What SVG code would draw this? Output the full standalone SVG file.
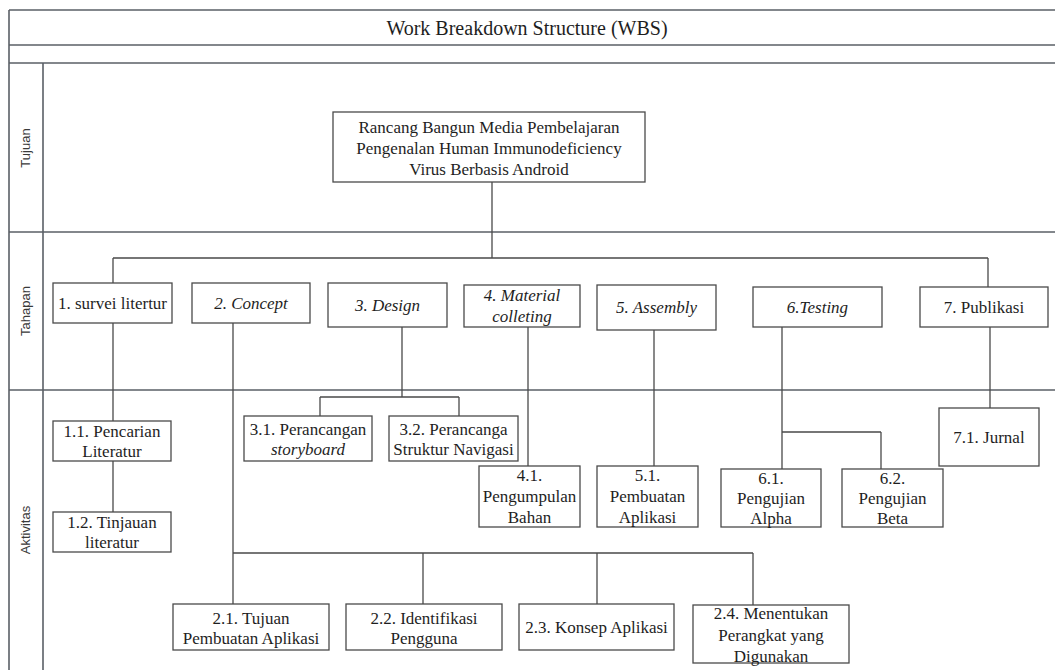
<svg xmlns="http://www.w3.org/2000/svg" width="1055" height="670" viewBox="0 0 1055 670">
<style>
.frame{fill:none;stroke:#5a5f66;stroke-width:1.6}
.box{fill:#fff;stroke:#4a4a4a;stroke-width:1.3}
.con{fill:none;stroke:#4a4a4a;stroke-width:1.3}
.t{font-family:"Liberation Serif","Times New Roman",serif;font-size:17px;fill:#1e1e1e;text-anchor:middle}
.i{font-style:italic}
.title{font-family:"Liberation Serif","Times New Roman",serif;font-size:20px;fill:#1e1e1e;text-anchor:middle}
.lane{font-family:"Liberation Sans",Arial,sans-serif;font-size:13px;fill:#3a3a3a;text-anchor:middle;dominant-baseline:central}
</style>
<rect width="1055" height="670" fill="#fff"/>
<g id="frame">
<line class="frame" x1="9" y1="10" x2="1055" y2="10"/>
<line class="frame" x1="9" y1="10" x2="9" y2="670"/>
<line class="frame" x1="9" y1="45" x2="1055" y2="45"/>
<line class="frame" x1="9" y1="63" x2="1055" y2="63"/>
<line class="frame" x1="43" y1="63" x2="43" y2="670"/>
<line class="frame" x1="9" y1="232" x2="1055" y2="232"/>
<line class="frame" x1="9" y1="390" x2="1055" y2="390"/>
<text class="title" x="527" y="35">Work Breakdown Structure (WBS)</text>
<text class="lane" transform="translate(25,148) rotate(-90)">Tujuan</text>
<text class="lane" transform="translate(25,311) rotate(-90)">Tahapan</text>
<text class="lane" transform="translate(25,530) rotate(-90)">Aktivitas</text>
</g>
<g id="connectors">
<path class="con" d="M492 182V258M113 258H988M113 258V283M988 258V287"/>
<path class="con" d="M113 323V421M113 461V512"/>
<path class="con" d="M233 323V604M233 553H753M423 553V604M597 553V604M753 553V605"/>
<path class="con" d="M402 327V397M320 397H459M320 397V416M459 397V416"/>
<path class="con" d="M528 327V466"/>
<path class="con" d="M654 330V466"/>
<path class="con" d="M782 327V469M782 432H881M881 432V469"/>
<path class="con" d="M990 327V408"/>
</g>
<g id="root">
<rect class="box" x="333" y="112" width="312" height="70"/>
<text class="t" x="489" y="133">Rancang Bangun Media Pembelajaran</text>
<text class="t" x="489" y="154">Pengenalan Human Immunodeficiency</text>
<text class="t" x="489" y="175">Virus Berbasis Android</text>
</g>
<g id="n1">
<rect class="box" x="53" y="283" width="119" height="40"/>
<text class="t" x="112.5" y="309">1. survei litertur</text>
</g>
<g id="n2">
<rect class="box" x="192" y="283" width="118" height="40"/>
<text class="t i" x="251" y="309">2. Concept</text>
</g>
<g id="n3">
<rect class="box" x="328" y="283" width="119" height="44"/>
<text class="t i" x="387.5" y="311">3. Design</text>
</g>
<g id="n4">
<rect class="box" x="464" y="285" width="116" height="42"/>
<text class="t i" x="522" y="301">4. Material</text>
<text class="t i" x="522" y="322">colleting</text>
</g>
<g id="n5">
<rect class="box" x="597" y="285" width="119" height="45"/>
<text class="t i" x="656.5" y="313">5. Assembly</text>
</g>
<g id="n6">
<rect class="box" x="753" y="287" width="129" height="40"/>
<text class="t i" x="817.5" y="313">6.Testing</text>
</g>
<g id="n7">
<rect class="box" x="920" y="287" width="128" height="40"/>
<text class="t" x="984" y="313">7. Publikasi</text>
</g>
<g id="n1_1">
<rect class="box" x="53" y="421" width="118" height="40"/>
<text class="t" x="112" y="437">1.1. Pencarian</text>
<text class="t" x="112" y="457">Literatur</text>
</g>
<g id="n1_2">
<rect class="box" x="53" y="512" width="118" height="40"/>
<text class="t" x="112" y="528">1.2. Tinjauan</text>
<text class="t" x="112" y="548">literatur</text>
</g>
<g id="n3_1">
<rect class="box" x="244" y="416" width="128" height="45"/>
<text class="t" x="308" y="435">3.1. Perancangan</text>
<text class="t i" x="308" y="455">storyboard</text>
</g>
<g id="n3_2">
<rect class="box" x="389" y="416" width="129" height="45"/>
<text class="t" x="453.5" y="435">3.2. Perancanga</text>
<text class="t" x="453.5" y="455">Struktur Navigasi</text>
</g>
<g id="n4_1">
<rect class="box" x="479" y="466" width="101" height="61"/>
<text class="t" x="529.5" y="481">4.1.</text>
<text class="t" x="529.5" y="502">Pengumpulan</text>
<text class="t" x="529.5" y="523">Bahan</text>
</g>
<g id="n5_1">
<rect class="box" x="597" y="466" width="101" height="61"/>
<text class="t" x="647.5" y="481">5.1.</text>
<text class="t" x="647.5" y="502">Pembuatan</text>
<text class="t" x="647.5" y="523">Aplikasi</text>
</g>
<g id="n6_1">
<rect class="box" x="721" y="469" width="100" height="58"/>
<text class="t" x="771" y="484">6.1.</text>
<text class="t" x="771" y="504">Pengujian</text>
<text class="t" x="771" y="524">Alpha</text>
</g>
<g id="n6_2">
<rect class="box" x="842" y="469" width="101" height="58"/>
<text class="t" x="892.5" y="484">6.2.</text>
<text class="t" x="892.5" y="504">Pengujian</text>
<text class="t" x="892.5" y="524">Beta</text>
</g>
<g id="n7_1">
<rect class="box" x="939" y="408" width="100" height="58"/>
<text class="t" x="989" y="443">7.1. Jurnal</text>
</g>
<g id="n2_1">
<rect class="box" x="173" y="604" width="156" height="46"/>
<text class="t" x="251" y="624">2.1. Tujuan</text>
<text class="t" x="251" y="644">Pembuatan Aplikasi</text>
</g>
<g id="n2_2">
<rect class="box" x="346" y="604" width="156" height="46"/>
<text class="t" x="424" y="624">2.2. Identifikasi</text>
<text class="t" x="424" y="644">Pengguna</text>
</g>
<g id="n2_3">
<rect class="box" x="519" y="604" width="155" height="46"/>
<text class="t" x="596.5" y="633">2.3. Konsep Aplikasi</text>
</g>
<g id="n2_4">
<rect class="box" x="693" y="605" width="156" height="58"/>
<text class="t" x="771" y="619">2.4. Menentukan</text>
<text class="t" x="771" y="641">Perangkat yang</text>
<text class="t" x="771" y="662">Digunakan</text>
</g>
</svg>
